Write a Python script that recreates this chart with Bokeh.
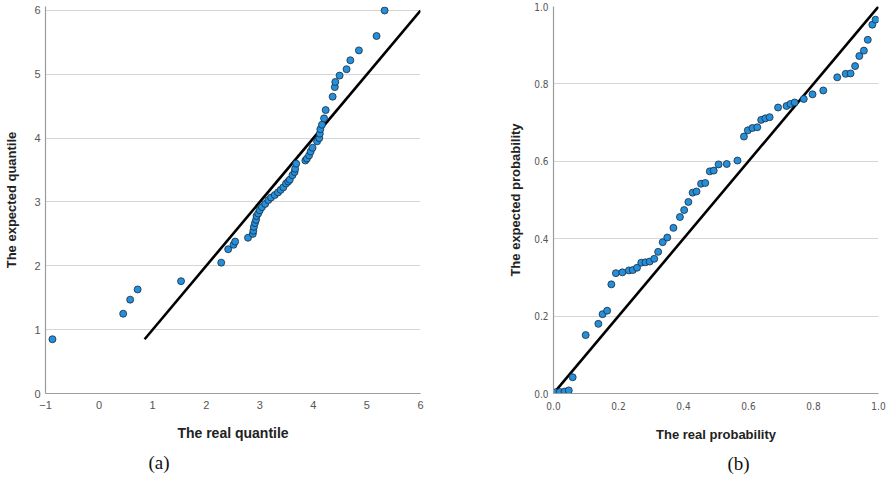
from bokeh.plotting import figure
from bokeh.layouts import row
from bokeh.models import Range1d, FixedTicker, Title, NumeralTickFormatter, ColumnDataSource
from bokeh.embed import file_html
from bokeh.resources import INLINE

# ---- Panel (a): Q-Q plot ----
q_real = [-0.87, 0.45, 0.58, 0.72, 1.53, 2.28, 2.41, 2.51, 2.54, 2.78, 2.87, 2.88, 2.89, 2.91,
          2.93, 2.94, 2.97, 3.00, 3.04, 3.10, 3.16, 3.21, 3.28, 3.34, 3.39, 3.44, 3.49, 3.53,
          3.56, 3.61, 3.65, 3.66, 3.68, 3.85, 3.88, 3.92, 3.95, 3.985, 4.07, 4.11, 4.12, 4.13,
          4.16, 4.20, 4.23, 4.36, 4.40, 4.41, 4.49, 4.62, 4.69, 4.85, 5.18, 5.33]
q_expected = [0.85, 1.25, 1.47, 1.63, 1.76, 2.05, 2.26, 2.33, 2.38, 2.44, 2.50, 2.55, 2.61, 2.67,
              2.72, 2.78, 2.82, 2.87, 2.92, 2.97, 3.03, 3.07, 3.11, 3.15, 3.19, 3.23, 3.29, 3.32,
              3.35, 3.42, 3.47, 3.52, 3.60, 3.65, 3.68, 3.73, 3.79, 3.85, 3.95, 4.00, 4.07, 4.14,
              4.21, 4.31, 4.44, 4.65, 4.80, 4.88, 4.98, 5.08, 5.22, 5.375, 5.60, 6.0]
q_line = [0.85, 6.0]
q_ticks_x = [-1, 0, 1, 2, 3, 4, 5, 6]
q_ticks_y = [0, 1, 2, 3, 4, 5, 6]

# ---- Panel (b): P-P plot ----
p_real = [0.006, 0.019, 0.034, 0.047, 0.059, 0.099, 0.138, 0.151, 0.165, 0.178, 0.192, 0.212,
          0.232, 0.244, 0.257, 0.270, 0.283, 0.296, 0.310, 0.322, 0.336, 0.350, 0.369, 0.389,
          0.402, 0.415, 0.428, 0.440, 0.454, 0.467, 0.481, 0.493, 0.508, 0.533, 0.566, 0.586,
          0.598, 0.612, 0.627, 0.639, 0.652, 0.665, 0.691, 0.717, 0.729, 0.742, 0.770, 0.797,
          0.830, 0.873, 0.899, 0.914, 0.928, 0.941, 0.955, 0.967, 0.981, 0.991]
p_expected = [0.003, 0.004, 0.005, 0.008, 0.042, 0.151, 0.180, 0.205, 0.214, 0.282, 0.311, 0.313,
              0.318, 0.319, 0.325, 0.338, 0.339, 0.341, 0.348, 0.366, 0.391, 0.403, 0.428, 0.456,
              0.474, 0.495, 0.519, 0.522, 0.542, 0.544, 0.574, 0.576, 0.592, 0.593, 0.602, 0.664,
              0.680, 0.686, 0.688, 0.707, 0.711, 0.714, 0.739, 0.743, 0.748, 0.752, 0.761, 0.773,
              0.783, 0.817, 0.826, 0.827, 0.846, 0.872, 0.886, 0.914, 0.953, 0.966]
p_line = [0.0, 1.0]
p_ticks = [0.0, 0.2, 0.4, 0.6, 0.8, 1.0]

POINT_FILL = "#2490dc"
POINT_LINE = "#1b2b3c"


def style(p, tick_font, tick_size):
    p.xgrid.visible = False
    p.ygrid.grid_line_color = "#d6d6d6"
    p.ygrid.grid_line_width = 1.2
    p.outline_line_color = None
    for ax in (p.xaxis[0], p.yaxis[0]):
        ax.axis_line_color = "#9c9c9c"
        ax.axis_line_width = 1.2
        ax.major_tick_line_color = None
        ax.minor_tick_line_color = None
        ax.major_tick_out = 0
        ax.major_tick_in = 0
        ax.major_label_standoff = 5
        ax.major_label_text_color = "#555555"
        ax.major_label_text_font = tick_font
        ax.major_label_text_font_size = tick_size
        ax.axis_label_text_font = "Liberation Sans"
        ax.axis_label_text_font_style = "bold"
        ax.axis_label_text_font_size = "13px"
        ax.axis_label_text_color = "#222222"
    p.xaxis[0].major_label_standoff = 7
    p.xaxis[0].axis_label_standoff = 14


def caption(p, text, dx):
    p.add_layout(Title(text=text, align="left", offset=dx, standoff=12,
                       text_font="Liberation Serif", text_font_size="19px",
                       text_font_style="normal", text_color="#111111"), "below")


# ---------- figure (a) ----------
pa = figure(width=440, height=479, x_range=Range1d(-1, 6), y_range=Range1d(0, 6.0625),
            output_backend="svg", toolbar_location=None,
            min_border_left=45, min_border_right=20, min_border_top=5, min_border_bottom=86,
            x_axis_label="The real quantile", y_axis_label="The expected quantile")
style(pa, "Liberation Sans", "11px")
pa.xaxis[0].ticker = FixedTicker(ticks=q_ticks_x)
pa.yaxis[0].ticker = FixedTicker(ticks=q_ticks_y)
pa.xaxis[0].axis_label_text_font_size = "14px"
pa.xaxis[0].axis_label_standoff = 13
pa.yaxis[0].axis_label_standoff = 12
pa.line(q_line, q_line, line_color="black", line_width=2.6)
src_a = ColumnDataSource(dict(x=q_real, y=q_expected))
pa.scatter("x", "y", source=src_a, size=7, fill_color=POINT_FILL, line_color=POINT_LINE, line_width=0.8)
caption(pa, "(a)", 103)

# ---------- figure (b) ----------
pb = figure(width=447, height=479, x_range=Range1d(0, 1), y_range=Range1d(0, 1),
            output_backend="svg", toolbar_location=None,
            min_border_left=113, min_border_right=9, min_border_top=6, min_border_bottom=86,
            x_axis_label="The real probability", y_axis_label="The expected probability")
style(pb, "'DejaVu Sans Condensed', 'Liberation Sans'", "10px")
pb.xaxis[0].ticker = FixedTicker(ticks=p_ticks)
pb.yaxis[0].ticker = FixedTicker(ticks=p_ticks)
pb.xaxis[0].formatter = NumeralTickFormatter(format="0.0")
pb.yaxis[0].formatter = NumeralTickFormatter(format="0.0")
pb.xaxis[0].major_label_standoff = 8
pb.yaxis[0].axis_label_standoff = 8
pb.line(p_line, p_line, line_color="black", line_width=2.6)
src_b = ColumnDataSource(dict(x=p_real, y=p_expected))
pb.scatter("x", "y", source=src_b, size=7, fill_color=POINT_FILL, line_color=POINT_LINE, line_width=0.8)
caption(pb, "(b)", 174)

layout = row(pa, pb)
open("out.html", "w").write(file_html(layout, INLINE))
